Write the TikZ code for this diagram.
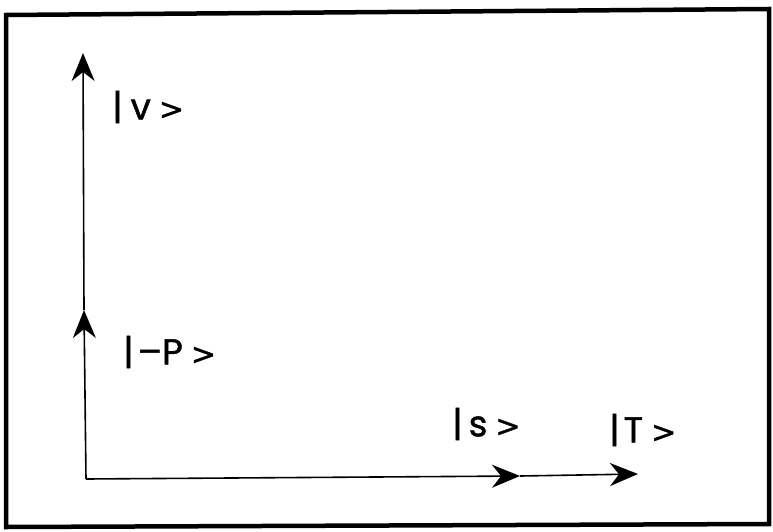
\documentclass[tikz,border=0pt]{standalone}
\usepackage{fontspec}
\setmainfont{Poppins}[FakeBold=1.2]
\newfontfamily\gtfont{DejaVu Sans}[FakeBold=1.2]
\newcommand{\kgt}{{\gtfont\fontsize{30}{30}\selectfont >}}
\newcommand{\ketfont}{\fontsize{36}{40}\selectfont\spaceskip=8pt\relax}
\usetikzlibrary{arrows.meta}
\begin{document}
\begin{tikzpicture}[x=1pt,y=-1pt,
  axis/.style={line width=1.6pt,-{Stealth[length=28pt,width=23pt,inset=9pt]}},
  ket/.style={anchor=west,inner sep=0pt,font=\ketfont}]
\useasboundingbox (0,0) rectangle (773,532);
\draw[line width=4.5pt] (6,15) -- (769,9) -- (769,524) -- (6,527) -- cycle;
\coordinate (O) at (86,479);
\coordinate (P1) at (84,310);
\coordinate (V) at (83,53);
\coordinate (S) at (520,476);
\coordinate (T) at (638,474);
\draw[axis] (O) -- (P1);
\draw[axis] (P1) -- (V);
\draw[axis] (O) -- (S);
\draw[axis] (S) -- (T);
\node[ket] (lv) at (112,107) {| v \kgt};
\node[ket] (lp) at (123,352) {|\hspace{-4pt} –P \kgt};
\node[ket] (ls) at (452,424) {|\hspace{-2pt} s \kgt};
\node[ket] (lt) at (609,430) {|\hspace{-4pt} T \kgt};
\end{tikzpicture}
\end{document}
